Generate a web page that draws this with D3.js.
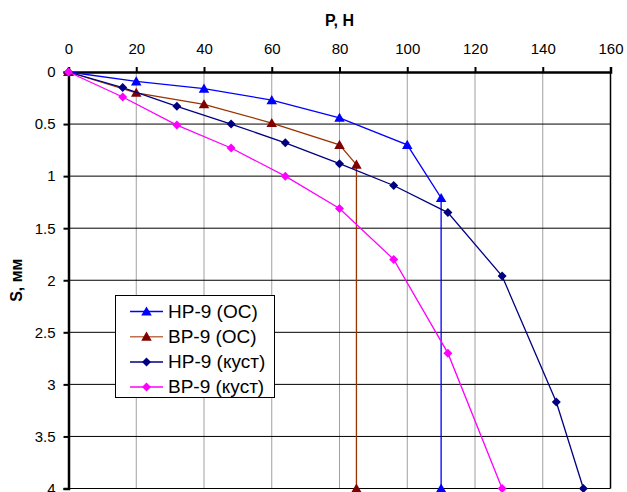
<!DOCTYPE html>
<html>
<head>
<meta charset="utf-8">
<script src="https://cdn.jsdelivr.net/npm/d3@7"></script>
<style>
  body { margin: 0; background: #fff; }
  svg { font-family: "Liberation Sans", Arial, sans-serif; }
</style>
</head>
<body>
<svg id="chart" width="627" height="492"></svg>
<script>
// данные
const xTicks = [0, 20, 40, 60, 80, 100, 120, 140, 160];
const yTicks = [0, 0.5, 1, 1.5, 2, 2.5, 3, 3.5, 4];

const hpOsP = [0, 20, 40, 60, 80, 100, 110, 110];
const hpOsS = [0, 0.09, 0.16, 0.27, 0.44, 0.7, 1.21, 4];

const bpOsP = [0, 20, 40, 60, 80, 85, 85];
const bpOsS = [0, 0.2, 0.31, 0.49, 0.7, 0.89, 4];

const hpKustP = [0, 16, 32, 48, 64, 80, 96, 112, 128, 144, 152];
const hpKustS = [0, 0.15, 0.33, 0.5, 0.68, 0.88, 1.09, 1.35, 1.96, 3.17, 4];

const bpKustP = [0, 16, 32, 48, 64, 80, 96, 112, 128];
const bpKustS = [0, 0.24, 0.51, 0.73, 1.0, 1.31, 1.8, 2.7, 4];

const series = [
    { name: "HP-9 (OC)", p: hpOsP, s: hpOsS, line: "#0000ff", marker: "#0000ff", shape: "triangle", legendLine: "#0000ff" },
    { name: "BP-9 (OC)", p: bpOsP, s: bpOsS, line: "#993300", marker: "#800000", shape: "triangle", legendLine: "#c0704a" },
    { name: "HP-9 (куст)", p: hpKustP, s: hpKustS, line: "#000080", marker: "#000080", shape: "diamond", legendLine: "#000080" },
    { name: "BP-9 (куст)", p: bpKustP, s: bpKustS, line: "#ff00ff", marker: "#ff00ff", shape: "diamond", legendLine: "#ff00ff" },
];

const svg = d3.select("#chart");
const plotL = 68.5, plotR = 610.5, plotT = 72, plotB = 488.5;

const x = d3.scaleLinear().domain([0, 160]).range([plotL, plotR]);
const y = d3.scaleLinear().domain([0, 4]).range([plotT, plotB]);

// вертикальная сетка
svg.append("g")
    .selectAll("line")
    .data(xTicks.slice(1))
    .enter()
    .append("line")
    .attr("x1", (d) => x(d)).attr("x2", (d) => x(d))
    .attr("y1", plotT).attr("y2", plotB)
    .attr("stroke", d => d === 160 ? "#000" : "#a0a0a0")
    .attr("stroke-width", d => d === 160 ? 1.5 : 1);

// горизонтальная сетка
svg.append("g")
    .selectAll("line")
    .data(yTicks.slice(1))
    .enter()
    .append("line")
    .attr("x1", plotL).attr("x2", plotR)
    .attr("y1", (d) => y(d)).attr("y2", (d) => y(d))
    .attr("stroke", "#000")
    .attr("stroke-width", 1);

// оси
const xAxis = svg.append("g")
    .attr("transform", `translate(0,${plotT})`)
    .call(d3.axisTop(x).tickValues(xTicks).tickSize(5).tickPadding(13).tickFormat(d3.format("")));
const yAxis = svg.append("g")
    .attr("transform", `translate(${plotL},0)`)
    .call(d3.axisLeft(y).tickValues(yTicks).tickSize(5).tickPadding(8).tickFormat(d3.format("")));

[xAxis, yAxis].forEach((a) => {
    a.select(".domain").attr("stroke", "#000").attr("stroke-width", 2.5);
    a.selectAll(".tick line").attr("stroke", "#000").attr("stroke-width", 2);
    a.selectAll(".tick text")
        .attr("fill", "#000")
        .style("font-size", "15px")
        .style("font-family", "'Liberation Sans', Arial, sans-serif");
});

// подписи осей
svg.append("text")
    .attr("x", (plotL + plotR) / 2)
    .attr("y", 26)
    .attr("text-anchor", "middle")
    .style("font-size", "16px")
    .style("font-weight", "bold")
    .text("P, H");

svg.append("text")
    .attr("transform", `translate(22,${(plotT + plotB) / 2}) rotate(-90)`)
    .attr("text-anchor", "middle")
    .style("font-size", "16px")
    .style("font-weight", "bold")
    .text("S, мм");

const triangle = d3.symbol().type(d3.symbolTriangle).size(48);
const diamond = (r) => `M0,${-r}L${r},0L0,${r}L${-r},0Z`;

function drawMarker(g, shape, color, cx, cy) {
    if (shape === "triangle") {
        g.append("path")
            .attr("d", triangle())
            .attr("transform", `translate(${cx},${cy + 1})`)
            .attr("fill", color);
    } else {
        g.append("path")
            .attr("d", diamond(4.5))
            .attr("transform", `translate(${cx},${cy})`)
            .attr("fill", color);
    }
}

// линии и маркеры
const lineGen = d3.line().x((d) => x(d[0])).y((d) => y(d[1]));

series.forEach((sr) => {
    const pts = sr.p.map((v, i) => [v, sr.s[i]]);
    const g = svg.append("g");
    g.append("path")
        .datum(pts)
        .attr("fill", "none")
        .attr("stroke", sr.line)
        .attr("stroke-width", 1.3)
        .attr("d", lineGen);
    pts.forEach((d) => drawMarker(g, sr.shape, sr.marker, x(d[0]), y(d[1])));
});

// легенда
const lg = svg.append("g");
lg.append("rect")
    .attr("x", 115.5).attr("y", 295.5)
    .attr("width", 159).attr("height", 102)
    .attr("fill", "#fff")
    .attr("stroke", "#000")
    .attr("stroke-width", 1);

series.forEach((sr, i) => {
    const cy = 311.5 + i * 25.2;
    lg.append("line")
        .attr("x1", 130).attr("x2", 163)
        .attr("y1", cy).attr("y2", cy)
        .attr("stroke", sr.legendLine)
        .attr("stroke-width", 1.5);
    drawMarker(lg, sr.shape, sr.marker, 146.5, cy);
    lg.append("text")
        .attr("x", 168)
        .attr("y", cy + 6)
        .style("font-size", "19px")
        .text(sr.name);
});
</script>
</body>
</html>
